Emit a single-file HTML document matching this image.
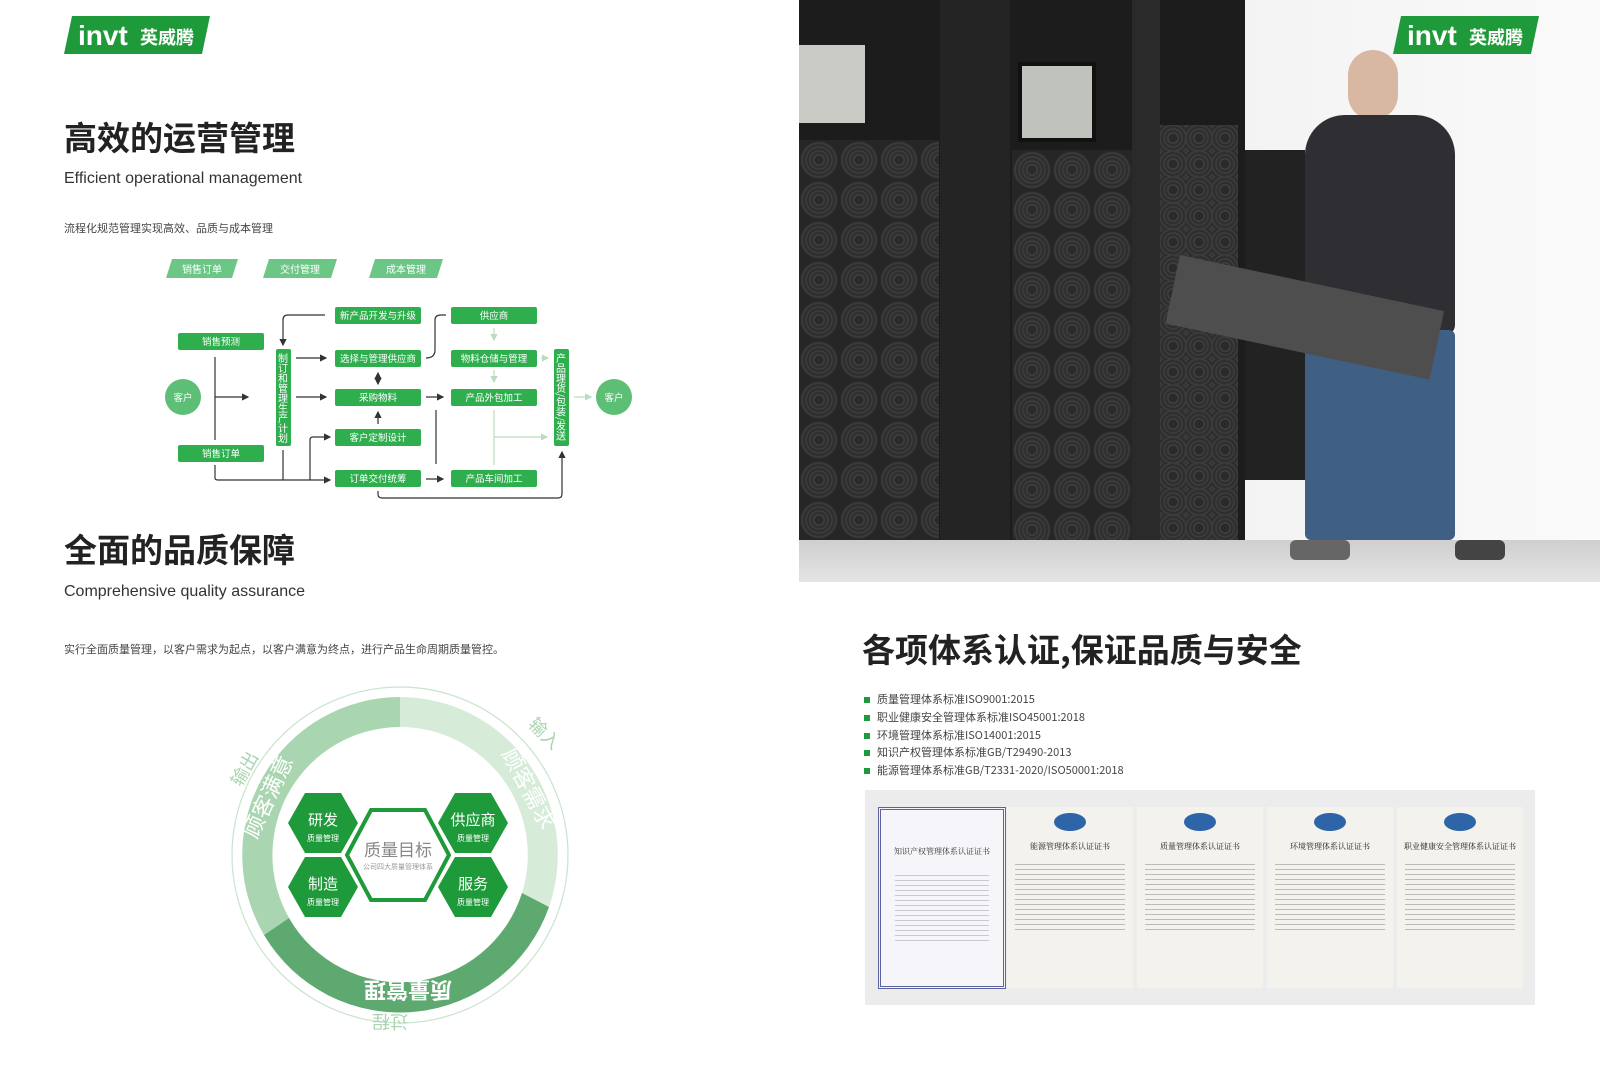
<!DOCTYPE html>
<html><head><meta charset="utf-8"><style>
body{margin:0;width:1600px;height:1086px;background:#fff;overflow:hidden;position:relative;font-family:"Liberation Sans","Noto Sans CJK SC",sans-serif;color:#222}
.a{position:absolute;white-space:nowrap}
.fan{background-color:#262626;background-image:radial-gradient(circle at 50% 50%,#2a2a2a 0 4px,#444 5px,#2a2a2a 7px,#3e3e3e 9px,#2a2a2a 11px,#3e3e3e 13px,#2a2a2a 15px,#3e3e3e 17px,#262626 19px 100%);background-size:40px 40px}
</style></head><body>
<svg class="a" style="left:64px;top:16px" width="146" height="38"><polygon points="8,0 146,0 138,38 0,38" fill="#1f9a3a"/><text x="14" y="29" font-family="Liberation Sans" font-weight="bold" font-size="28" fill="#fff">invt</text><text x="76" y="28" font-family="Noto Sans CJK SC" font-weight="bold" font-size="18" fill="#fff">英威腾</text></svg>
<div class="a" style="left:64px;top:112px;font-size:33px;font-weight:bold;font-family:'Noto Sans CJK SC',sans-serif">高效的运营管理</div>
<div class="a" style="left:64px;top:170px;font-size:16px;color:#333">Efficient operational management</div>
<div class="a" style="left:64px;top:220px;font-size:11px;color:#444;font-family:'Noto Sans CJK SC',sans-serif">流程化规范管理实现高效、品质与成本管理</div>
<svg class="a" style="left:0;top:0" width="800" height="520" font-family="Noto Sans CJK SC,sans-serif" font-size="10">
<defs><marker id="ar" markerWidth="6" markerHeight="6" refX="5" refY="3" orient="auto-start-reverse"><path d="M0,0L6,3L0,6z" fill="#333"/></marker>
<marker id="al" markerWidth="6" markerHeight="6" refX="5" refY="3" orient="auto"><path d="M0,0L6,3L0,6z" fill="#bcdcc2"/></marker></defs>
<g fill="#6cc686"><polygon points="172,259 238,259 232,278 166,278"/><polygon points="269,259 337,259 331,278 263,278"/><polygon points="375,259 443,259 437,278 369,278"/></g>
<g fill="#fff" text-anchor="middle"><text x="202" y="273">销售订单</text><text x="300" y="273">交付管理</text><text x="406" y="273">成本管理</text></g>
<g fill="#2fae4e">
<rect x="335" y="307" width="86" height="17" rx="2"/><rect x="335" y="350" width="86" height="17" rx="2"/><rect x="335" y="389" width="86" height="17" rx="2"/><rect x="335" y="429" width="86" height="17" rx="2"/><rect x="335" y="470" width="86" height="17" rx="2"/>
<rect x="451" y="307" width="86" height="17" rx="2"/><rect x="451" y="350" width="86" height="17" rx="2"/><rect x="451" y="389" width="86" height="17" rx="2"/><rect x="451" y="470" width="86" height="17" rx="2"/>
<rect x="178" y="333" width="86" height="17" rx="2"/><rect x="178" y="445" width="86" height="17" rx="2"/>
<rect x="276" y="349" width="15" height="97" rx="2"/><rect x="554" y="349" width="15" height="97" rx="2"/>
<circle cx="183" cy="397" r="18" fill="#5dbf75"/><circle cx="614" cy="397" r="18" fill="#5dbf75"/>
</g>
<g fill="#fff" text-anchor="middle" font-size="9.5">
<text x="378" y="319">新产品开发与升级</text><text x="378" y="362">选择与管理供应商</text><text x="378" y="401">采购物料</text><text x="378" y="441">客户定制设计</text><text x="378" y="482">订单交付统筹</text>
<text x="494" y="319">供应商</text><text x="494" y="362">物料仓储与管理</text><text x="494" y="401">产品外包加工</text><text x="494" y="482">产品车间加工</text>
<text x="221" y="345">销售预测</text><text x="221" y="457">销售订单</text><text x="183" y="401">客户</text><text x="614" y="401">客户</text>
</g>
<text x="283" y="353" fill="#fff" font-size="10" style="writing-mode:tb">制订和管理生产计划</text>
<text x="561" y="353" fill="#fff" font-size="10" style="writing-mode:tb">产品理货/包装/发送</text>
<g stroke="#333" stroke-width="1.2" fill="none">
<path d="M215,357V440"/><path d="M215,397H248" marker-end="url(#ar)"/>
<path d="M215,465V478Q215,480 218,480H330" marker-end="url(#ar)"/>
<path d="M283,450V480"/><path d="M310,480V440Q310,437 313,437H330" marker-end="url(#ar)"/>
<path d="M325,315H288Q283,315 283,320V345" marker-end="url(#ar)"/>
<path d="M296,358H326" marker-end="url(#ar)"/><path d="M296,397H326" marker-end="url(#ar)"/>
<path d="M378,373V384" marker-end="url(#ar)" marker-start="url(#ar)"/>
<path d="M378,424V412" marker-end="url(#ar)"/>
<path d="M426,397H443" marker-end="url(#ar)"/><path d="M426,479H443" marker-end="url(#ar)"/>
<path d="M426,358Q435,358 435,350V320Q435,315 441,315H446"/>
<path d="M436,410V464"/>
<path d="M378,491V494Q378,498 382,498H558Q562,498 562,494V452" marker-end="url(#ar)"/>
</g>
<g stroke="#bcdcc2" stroke-width="1.2" fill="none">
<path d="M494,328V340" marker-end="url(#al)"/><path d="M494,370V382" marker-end="url(#al)"/>
<path d="M541,358H548" marker-end="url(#al)"/><path d="M494,410V465"/><path d="M494,437H547" marker-end="url(#al)"/>
<path d="M574,397H591" marker-end="url(#al)"/>
</g>
</svg>
<div class="a" style="left:64px;top:524px;font-size:33px;font-weight:bold;font-family:'Noto Sans CJK SC',sans-serif">全面的品质保障</div>
<div class="a" style="left:64px;top:583px;font-size:16px;color:#333">Comprehensive quality assurance</div>
<div class="a" style="left:64px;top:641px;font-size:11px;color:#444;font-family:'Noto Sans CJK SC',sans-serif">实行全面质量管理，以客户需求为起点，以客户满意为终点，进行产品生命周期质量管控。</div>
<svg class="a" style="left:0;top:0" width="800" height="1086" font-family="Noto Sans CJK SC,sans-serif">
<circle cx="400" cy="855" r="168" fill="none" stroke="#c9e3cd" stroke-width="1.2"/>
<path d="M400,697A158,158 0 0 1 549,907L522,893A128,128 0 0 0 400,727Z" fill="#d6ecd9"/>
<path d="M400,697A158,158 0 0 0 264,935L289,918A128,128 0 0 1 400,727Z" fill="#a9d6b0"/>
<path d="M549,907A158,158 0 0 1 264,935L289,918A128,128 0 0 0 522,893Z" fill="#5ea96f"/>
<text fill="#fff" font-size="22" font-weight="bold" transform="translate(408,982) rotate(180)" text-anchor="middle">质量管理</text>
<text fill="#fff" font-size="22" transform="translate(275,800) rotate(-65)" text-anchor="middle">顾客满意</text>
<text fill="#fff" font-size="22" transform="translate(522,792) rotate(62)" text-anchor="middle">顾客需求</text>
<text fill="#a9d6b0" font-size="18" transform="translate(250,772) rotate(-60)" text-anchor="middle">输出</text>
<text fill="#a9d6b0" font-size="18" transform="translate(540,738) rotate(45)" text-anchor="middle">输入</text>
<text fill="#a9d6b0" font-size="18" transform="translate(390,1015) rotate(180)" text-anchor="middle">过程</text>
<g fill="#1f9a3a">
<polygon points="288,823 305,793 341,793 358,823 341,853 305,853"/>
<polygon points="288,887 305,857 341,857 358,887 341,917 305,917"/>
<polygon points="438,823 455,793 491,793 508,823 491,853 455,853"/>
<polygon points="438,887 455,857 491,857 508,887 491,917 455,917"/>
</g>
<polygon points="347,855 371,810 425,810 449,855 425,900 371,900" fill="#fff" stroke="#1f9a3a" stroke-width="4"/>
<g fill="#fff" text-anchor="middle"><text x="323" y="825" font-size="15">研发</text><text x="323" y="841" font-size="8">质量管理</text>
<text x="323" y="889" font-size="15">制造</text><text x="323" y="905" font-size="8">质量管理</text>
<text x="473" y="825" font-size="15">供应商</text><text x="473" y="841" font-size="8">质量管理</text>
<text x="473" y="889" font-size="15">服务</text><text x="473" y="905" font-size="8">质量管理</text></g>
<text x="398" y="856" font-size="17" fill="#888" text-anchor="middle">质量目标</text>
<text x="398" y="869" font-size="7" fill="#999" text-anchor="middle">公司四大质量管理体系</text>
</svg>
<div class="a" style="left:799px;top:0;width:801px;height:582px;background:linear-gradient(90deg,#e6e6e6,#f4f4f4 60%,#fafafa)"></div>
<div class="a" style="left:799px;top:0;width:446px;height:540px;background:#1c1c1c"></div>
<div class="a fan" style="left:799px;top:140px;width:140px;height:400px"></div>
<div class="a fan" style="left:1012px;top:150px;width:120px;height:390px"></div>
<div class="a fan" style="left:1160px;top:125px;width:78px;height:415px;background-size:26px 26px"></div>
<div class="a" style="left:940px;top:0;width:70px;height:540px;background:#242424"></div>
<div class="a" style="left:1132px;top:0;width:28px;height:540px;background:#2a2a2a"></div>
<div class="a" style="left:799px;top:45px;width:66px;height:78px;background:#c9cbc4"></div>
<div class="a" style="left:1018px;top:62px;width:70px;height:72px;background:#bfc3bb;border:4px solid #111"></div>
<div class="a" style="left:799px;top:540px;width:801px;height:42px;background:linear-gradient(#cfcfcf,#e4e4e4)"></div>
<div class="a" style="left:1245px;top:150px;width:60px;height:330px;background:#222"></div>
<div class="a" style="left:1348px;top:50px;width:50px;height:70px;border-radius:25px;background:#d9b8a3"></div>
<div class="a" style="left:1305px;top:115px;width:150px;height:220px;border-radius:40px 40px 10px 10px;background:#2e2e33"></div>
<div class="a" style="left:1305px;top:330px;width:150px;height:210px;background:#3f5f85;border-radius:6px"></div>
<div class="a" style="left:1290px;top:540px;width:60px;height:20px;background:#666;border-radius:6px"></div>
<div class="a" style="left:1455px;top:540px;width:50px;height:20px;background:#444;border-radius:6px"></div>
<div class="a" style="left:1180px;top:255px;width:270px;height:70px;background:#4e4e4e;transform:rotate(12deg);transform-origin:left top"></div>
<svg class="a" style="left:1393px;top:16px" width="146" height="38"><polygon points="8,0 146,0 138,38 0,38" fill="#1f9a3a"/><text x="14" y="29" font-family="Liberation Sans" font-weight="bold" font-size="28" fill="#fff">invt</text><text x="76" y="28" font-family="Noto Sans CJK SC" font-weight="bold" font-size="18" fill="#fff">英威腾</text></svg>
<div class="a" style="left:862px;top:624px;font-size:33px;font-weight:bold;font-family:'Noto Sans CJK SC',sans-serif">各项体系认证,保证品质与安全</div>
<div class="a" style="left:864px;top:691px;font-size:11px;line-height:17.8px;color:#444;font-family:'Noto Sans CJK SC',sans-serif">
<div><span style="display:inline-block;width:6px;height:6px;background:#1f9a3a;margin-right:7px"></span>质量管理体系标准ISO9001:2015</div>
<div><span style="display:inline-block;width:6px;height:6px;background:#1f9a3a;margin-right:7px"></span>职业健康安全管理体系标准ISO45001:2018</div>
<div><span style="display:inline-block;width:6px;height:6px;background:#1f9a3a;margin-right:7px"></span>环境管理体系标准ISO14001:2015</div>
<div><span style="display:inline-block;width:6px;height:6px;background:#1f9a3a;margin-right:7px"></span>知识产权管理体系标准GB/T29490-2013</div>
<div><span style="display:inline-block;width:6px;height:6px;background:#1f9a3a;margin-right:7px"></span>能源管理体系标准GB/T2331-2020/ISO50001:2018</div>
</div>
<div class="a" style="left:865px;top:790px;width:670px;height:215px;background:#ececec"></div>
<div class="a" style="left:878px;top:807px;width:122px;height:176px;background:#f6f6fa;border:3px double #5a63a0"><div style="text-align:center;font-size:8px;margin-top:36px;color:#333;font-family:'Noto Serif CJK SC',serif">知识产权管理体系认证证书</div><div style="margin:14px 14px 0;height:70px;background:repeating-linear-gradient(#f6f6fa 0 4px,#c8c8d0 4px 5px)"></div></div>
<div class="a" style="left:1007px;top:807px;width:126px;height:181px;background:#f4f2ec"><div style="margin:6px auto 0;width:32px;height:18px;border-radius:50%;background:#2e64a8"></div><div style="text-align:center;font-size:8px;margin-top:10px;font-family:'Noto Serif CJK SC',serif">能源管理体系认证证书</div><div style="margin:8px 8px 0;height:70px;background:repeating-linear-gradient(#f4f2ec 0 4px,#bbb 4px 5px)"></div></div>
<div class="a" style="left:1137px;top:807px;width:126px;height:181px;background:#f4f2ec"><div style="margin:6px auto 0;width:32px;height:18px;border-radius:50%;background:#2e64a8"></div><div style="text-align:center;font-size:8px;margin-top:10px;font-family:'Noto Serif CJK SC',serif">质量管理体系认证证书</div><div style="margin:8px 8px 0;height:70px;background:repeating-linear-gradient(#f4f2ec 0 4px,#bbb 4px 5px)"></div></div>
<div class="a" style="left:1267px;top:807px;width:126px;height:181px;background:#f4f2ec"><div style="margin:6px auto 0;width:32px;height:18px;border-radius:50%;background:#2e64a8"></div><div style="text-align:center;font-size:8px;margin-top:10px;font-family:'Noto Serif CJK SC',serif">环境管理体系认证证书</div><div style="margin:8px 8px 0;height:70px;background:repeating-linear-gradient(#f4f2ec 0 4px,#bbb 4px 5px)"></div></div>
<div class="a" style="left:1397px;top:807px;width:126px;height:181px;background:#f4f2ec"><div style="margin:6px auto 0;width:32px;height:18px;border-radius:50%;background:#2e64a8"></div><div style="text-align:center;font-size:8px;margin-top:10px;font-family:'Noto Serif CJK SC',serif">职业健康安全管理体系认证证书</div><div style="margin:8px 8px 0;height:70px;background:repeating-linear-gradient(#f4f2ec 0 4px,#bbb 4px 5px)"></div></div>
</body></html>
